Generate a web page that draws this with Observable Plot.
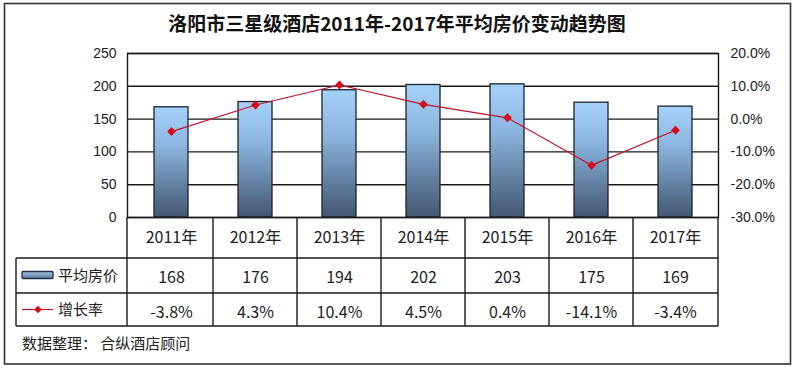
<!DOCTYPE html>
<html><head><meta charset="utf-8">
<script src="https://cdn.jsdelivr.net/npm/d3@7"></script>
<script src="https://cdn.jsdelivr.net/npm/@observablehq/plot@0.6"></script>
<style>
body{margin:0;background:#fff;}
#chart svg{display:block;}
</style>
</head><body><div id="chart"></div>
<script>
// ---- data ----
const years = ["2011年","2012年","2013年","2014年","2015年","2016年","2017年"];
const prices = [168, 176, 194, 202, 203, 175, 169];
const rates = [-3.8, 4.3, 10.4, 4.5, 0.4, -14.1, -3.4];
const leftTicks = [0, 50, 100, 150, 200, 250];
const rightTicks = [-30, -20, -10, 0, 10, 20];
const seriesNames = ["平均房价", "增长率"];
const titleText = "洛阳市三星级酒店2011年-2017年平均房价变动趋势图";
const sourceText = "数据整理： 合纵酒店顾问";

const rows = years.map((year, i) => ({year, price: prices[i], rate: rates[i]}));
// map the right axis (-30%..20%) onto the left axis units (0..250)
const yMax = leftTicks[leftTicks.length - 1];
const rMin = rightTicks[0], rMax = rightTicks[rightTicks.length - 1];
const rateToY = r => (r - rMin) * yMax / (rMax - rMin);
const yToRate = v => v * (rMax - rMin) / yMax + rMin;

const CJK = "'Noto Sans CJK SC','Noto Sans',sans-serif";
const LAT = "'Liberation Sans',Arial,sans-serif";

const defs = () => {
  const d = d3.create("svg:defs");
  const g = d.append("linearGradient").attr("id", "barGrad").attr("x1", 0).attr("y1", 0).attr("x2", 0).attr("y2", 1);
  g.append("stop").attr("offset", "0%").attr("stop-color", "#a6d1f8");
  g.append("stop").attr("offset", "35%").attr("stop-color", "#8cb6df");
  g.append("stop").attr("offset", "70%").attr("stop-color", "#6482a4");
  g.append("stop").attr("offset", "100%").attr("stop-color", "#435670");
  const h = d.append("linearGradient").attr("id", "swatchGrad").attr("x1", 0).attr("y1", 0).attr("x2", 0).attr("y2", 1);
  h.append("stop").attr("offset", "0%").attr("stop-color", "#a6c6e6");
  h.append("stop").attr("offset", "100%").attr("stop-color", "#5d7a9c");
  return d.node();
};

const chart = Plot.plot({
  width: 800, height: 371,
  marginLeft: 127, marginRight: 82, marginTop: 53, marginBottom: 154,
  style: {fontFamily: LAT, fontSize: "14px", color: "#222", background: "white", overflow: "visible"},
  x: {domain: years, paddingInner: 0.6, paddingOuter: 0.3, axis: null},
  y: {domain: [0, yMax], axis: null},
  marks: [
    defs,
    Plot.ruleY(leftTicks, {stroke: "#1a1a1a", strokeWidth: 1.4}),
    Plot.barY(rows, {x: "year", y: "price", fill: "url(#barGrad)", stroke: "#1c2230", strokeWidth: 1.3}),
    Plot.line(rows, {x: "year", y: d => rateToY(d.rate), stroke: "#c0142c", strokeWidth: 1.2}),
    Plot.dot(rows, {x: "year", y: d => rateToY(d.rate), symbol: "diamond2", r: 4, fill: "#d40b1f", stroke: "none"}),
    Plot.frame({stroke: "#1a1a1a", strokeWidth: 1.4}),
    Plot.axisY({ticks: leftTicks, anchor: "left", label: null, tickSize: 0, tickPadding: 11, fontSize: 14}),
    Plot.axisY({ticks: leftTicks, anchor: "right", label: null, tickSize: 0, tickPadding: 12, fontSize: 14,
      tickFormat: v => yToRate(v).toFixed(1) + "%"}),
    Plot.text(rows, {x: "year", y: 0, dy: 20, text: "year", fontFamily: CJK, fontSize: 16, fill: "#222"}),
    Plot.text(rows, {x: "year", y: 0, dy: 60, text: d => String(d.price), fontFamily: CJK, fontSize: 16, fill: "#222"}),
    Plot.text(rows, {x: "year", y: 0, dy: 95, text: d => d.rate.toFixed(1) + "%", fontFamily: CJK, fontSize: 16, fill: "#222"})
  ]
});
document.getElementById("chart").appendChild(chart);

// ---- table grid, legend keys, title, source (positioned from Plot's scales) ----
const svg = d3.select(chart);
const xs = chart.scale("x"), ys = chart.scale("y");
const y0 = ys.apply(0);
const [xL, xR] = xs.range;
const bw = xs.bandwidth;
const tableLeft = 16;
const rowLines = [y0 + 41, y0 + 76, y0 + 109];
const g = svg.append("g").attr("stroke", "#1a1a1a").attr("stroke-width", 1.4).attr("fill", "none");
rowLines.forEach(y => g.append("line").attr("x1", tableLeft).attr("x2", xR).attr("y1", y).attr("y2", y));
g.append("line").attr("x1", tableLeft).attr("x2", tableLeft).attr("y1", rowLines[0]).attr("y2", rowLines[2]);
g.append("line").attr("x1", xL).attr("x2", xL).attr("y1", y0).attr("y2", rowLines[2]);
g.append("line").attr("x1", xR).attr("x2", xR).attr("y1", y0).attr("y2", rowLines[2]);
for (let i = 0; i < years.length - 1; i++) {
  const xb = (xs.apply(years[i]) + bw + xs.apply(years[i + 1])) / 2;
  g.append("line").attr("x1", xb).attr("x2", xb).attr("y1", y0).attr("y2", rowLines[2]);
}
// legend keys
const r1 = (rowLines[0] + rowLines[1]) / 2, r2 = (rowLines[1] + rowLines[2]) / 2;
svg.append("rect").attr("x", 22).attr("y", r1 - 4).attr("width", 31).attr("height", 7)
  .attr("fill", "url(#swatchGrad)").attr("stroke", "#1f2f4a").attr("stroke-width", 1.3).attr("rx", 1);
svg.append("line").attr("x1", 22).attr("x2", 53).attr("y1", r2).attr("y2", r2).attr("stroke", "#c0142c").attr("stroke-width", 1.2);
svg.append("path").attr("d", d3.symbol(d3.symbolDiamond2, 36)()).attr("transform", `translate(38,${r2})`).attr("fill", "#d40b1f");
const txt = (x, y, s, size, weight, anchor) => svg.append("text").attr("x", x).attr("y", y).attr("dy", "0.35em")
  .attr("text-anchor", anchor).attr("font-family", CJK).attr("font-size", size).attr("font-weight", weight)
  .attr("fill", "#222").text(s);
txt(58, r1, seriesNames[0], 15, "normal", "start");
txt(58, r2, seriesNames[1], 15, "normal", "start");
// title
txt(397, 24, titleText, 19, "bold", "middle").attr("fill", "#111");
// source
txt(22, 344, sourceText, 15, "normal", "start");
// outer border
svg.append("rect").attr("x", 4.5).attr("y", 3.5).attr("width", 786).attr("height", 360.5)
  .attr("fill", "none").attr("stroke", "#333").attr("stroke-width", 1.6);
</script>
</body></html>
